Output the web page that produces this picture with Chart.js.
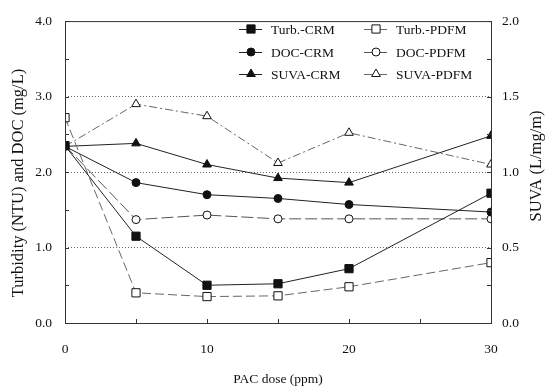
<!DOCTYPE html>
<html>
<head>
<meta charset="utf-8">
<script src="https://cdn.jsdelivr.net/npm/chart.js@4.4.1/dist/chart.umd.min.js"></script>
<style>
  body { margin: 0; background: #fff; }
</style>
</head>
<body>
<canvas id="myChart" width="545" height="390"></canvas>
<script>
// PAC dose on the x axis
const doses = [0, 5, 10, 15, 20, 30];
// left axis: turbidity (NTU) and DOC (mg/L)
const turbCRM = [2.35, 1.15, 0.50, 0.52, 0.72, 1.72];
const turbPDFM = [2.72, 0.40, 0.35, 0.36, 0.48, 0.80];
const docCRM = [2.34, 1.86, 1.70, 1.65, 1.57, 1.47];
const docPDFM = [2.35, 1.37, 1.43, 1.38, 1.38, 1.38];
// right axis: SUVA (L/mg/m)
const suvaCRM = [1.17, 1.19, 1.05, 0.96, 0.93, 1.24];
const suvaPDFM = [1.17, 1.45, 1.37, 1.06, 1.26, 1.05];

const seriesNames = ['Turb.-CRM', 'Turb.-PDFM', 'DOC-CRM', 'DOC-PDFM', 'SUVA-CRM', 'SUVA-PDFM'];
const leftTitle = 'Turbidity (NTU) and DOC (mg/L)';
const rightTitle = 'SUVA (L/mg/m)';

const serif = 'Liberation Serif';

function pts(arr) {
    return doses.map((d, i) => ({ x: d, y: arr[i] }));
}

function makeSet(label, arr, axis, style, radius, filled, dash, color) {
    return {
        label: label,
        data: pts(arr),
        yAxisID: axis,
        borderColor: color,
        borderWidth: 1,
        borderDash: dash,
        pointStyle: style,
        pointRadius: radius,
        pointBorderWidth: 1,
        pointBorderColor: '#111',
        pointBackgroundColor: filled ? '#111' : '#fff',
        tension: 0,
        fill: false
    };
}

const data = {
    datasets: [
        makeSet(seriesNames[0], turbCRM, 'y', 'rect', 5.8, true, [], '#222'),
        makeSet(seriesNames[1], turbPDFM, 'y', 'rect', 5.8, false, [9, 4], '#666'),
        makeSet(seriesNames[2], docCRM, 'y', 'circle', 4, true, [], '#222'),
        makeSet(seriesNames[3], docPDFM, 'y', 'circle', 4, false, [12, 4], '#555'),
        makeSet(seriesNames[4], suvaCRM, 'y2', 'triangle', 5, true, [], '#222'),
        makeSet(seriesNames[5], suvaPDFM, 'y2', 'triangle', 5, false, [8, 3, 2, 3], '#666')
    ]
};

function drawMarker(ctx, style, x, y, r, fill) {
    ctx.beginPath();
    if (style === 'rect') {
        const s = r * Math.SQRT1_2;
        ctx.rect(x - s, y - s, 2 * s, 2 * s);
    } else if (style === 'circle') {
        ctx.arc(x, y, r, 0, Math.PI * 2);
    } else {
        const h = r * 1.5;
        ctx.moveTo(x, y - h * 2 / 3);
        ctx.lineTo(x + r * 0.87, y + h / 3);
        ctx.lineTo(x - r * 0.87, y + h / 3);
        ctx.closePath();
    }
    ctx.fillStyle = fill;
    ctx.fill();
    ctx.strokeStyle = '#111';
    ctx.lineWidth = 1;
    ctx.stroke();
}

function vText(ctx, text, x, y) {
    ctx.save();
    ctx.translate(x, y);
    ctx.rotate(-Math.PI / 2);
    ctx.fillText(text, 0, 0);
    ctx.restore();
}

// frame, inward tick marks, y titles and the 2x3 legend inside the plot
const extras = {
    id: 'extras',
    afterDraw(chart) {
        const ctx = chart.ctx;
        const a = chart.chartArea;
        ctx.save();
        ctx.strokeStyle = '#333';
        ctx.lineWidth = 1;
        ctx.setLineDash([]);
        ctx.strokeRect(a.left + 0.5, a.top + 0.5, a.right - a.left, a.bottom - a.top);

        ctx.beginPath();
        chart.scales.y.ticks.forEach(t => {
            const py = Math.round(chart.scales.y.getPixelForValue(t.value)) + 0.5;
            ctx.moveTo(a.left, py); ctx.lineTo(a.left + 4, py);
        });
        chart.scales.y2.ticks.forEach(t => {
            const py = Math.round(chart.scales.y2.getPixelForValue(t.value)) + 0.5;
            ctx.moveTo(a.right, py); ctx.lineTo(a.right - 4, py);
        });
        chart.scales.x.ticks.forEach(t => {
            const px = Math.round(chart.scales.x.getPixelForValue(t.value)) + 0.5;
            ctx.moveTo(px, a.bottom); ctx.lineTo(px, a.bottom - 4);
        });
        ctx.stroke();

        // axis titles, both reading bottom to top
        ctx.fillStyle = '#111';
        ctx.textAlign = 'center';
        ctx.textBaseline = 'middle';
        ctx.font = '16.5px "' + serif + '"';
        vText(ctx, leftTitle, 19, 183);
        vText(ctx, rightTitle, 537, 166);

        const colX = [239, 364];
        const rowY = [29, 52, 74];
        ctx.font = '13.5px "' + serif + '"';
        ctx.textAlign = 'left';
        chart.data.datasets.forEach((ds, i) => {
            const x0 = colX[i % 2];
            const y0 = rowY[Math.floor(i / 2)];
            ctx.strokeStyle = ds.borderColor;
            ctx.setLineDash([]);
            ctx.beginPath();
            ctx.moveTo(x0, y0 + 0.5);
            ctx.lineTo(x0 + 23, y0 + 0.5);
            ctx.stroke();
            drawMarker(ctx, ds.pointStyle, x0 + 12, y0, ds.pointRadius, ds.pointBackgroundColor);
            ctx.fillStyle = '#111';
            ctx.fillText(ds.label, x0 + 32, y0 + 1);
        });
        ctx.restore();
    }
};

const tickFont = { family: serif, size: 13.5 };

const config = {
    type: 'line',
    data: data,
    options: {
        responsive: false,
        animation: false,
        layout: {
            padding: { top: 14, left: 0, right: 0, bottom: 0 }
        },
        plugins: {
            legend: { display: false },
            tooltip: { enabled: false }
        },
        scales: {
            x: {
                type: 'linear',
                min: 0,
                max: 30,
                afterFit: s => { s.height = 67; },
                grid: { display: false, drawTicks: false },
                border: { display: false },
                ticks: {
                    stepSize: 5,
                    autoSkip: false,
                    maxRotation: 0,
                    padding: 18,
                    color: '#111',
                    font: tickFont,
                    callback: v => (v % 10 === 0 ? String(v) : '')
                },
                title: {
                    display: true,
                    text: 'PAC dose (ppm)',
                    color: '#111',
                    font: tickFont,
                    padding: { top: 0, bottom: 2 }
                }
            },
            y: {
                position: 'left',
                min: 0,
                max: 4,
                afterFit: s => { s.width = 65; },
                grid: {
                    drawTicks: false,
                    color: c => ([1, 2, 3].includes(c.tick.value) ? '#666' : 'rgba(0,0,0,0)')
                },
                border: { display: false, dash: [1, 2] },
                ticks: {
                    stepSize: 0.5,
                    autoSkip: false,
                    padding: 13,
                    color: '#111',
                    font: tickFont,
                    callback: v => (Number.isInteger(v) ? v.toFixed(1) : '')
                }
            },
            y2: {
                position: 'right',
                min: 0,
                max: 2,
                afterFit: s => { s.width = 54; },
                grid: { display: false, drawTicks: false },
                border: { display: false },
                ticks: {
                    stepSize: 0.25,
                    autoSkip: false,
                    padding: 11,
                    color: '#111',
                    font: tickFont,
                    callback: v => (Math.abs(v * 2 - Math.round(v * 2)) < 1e-9 ? v.toFixed(1) : '')
                }
            }
        }
    },
    plugins: [extras]
};

const myChart = new Chart(
    document.getElementById('myChart'),
    config
);
</script>
</body>
</html>
